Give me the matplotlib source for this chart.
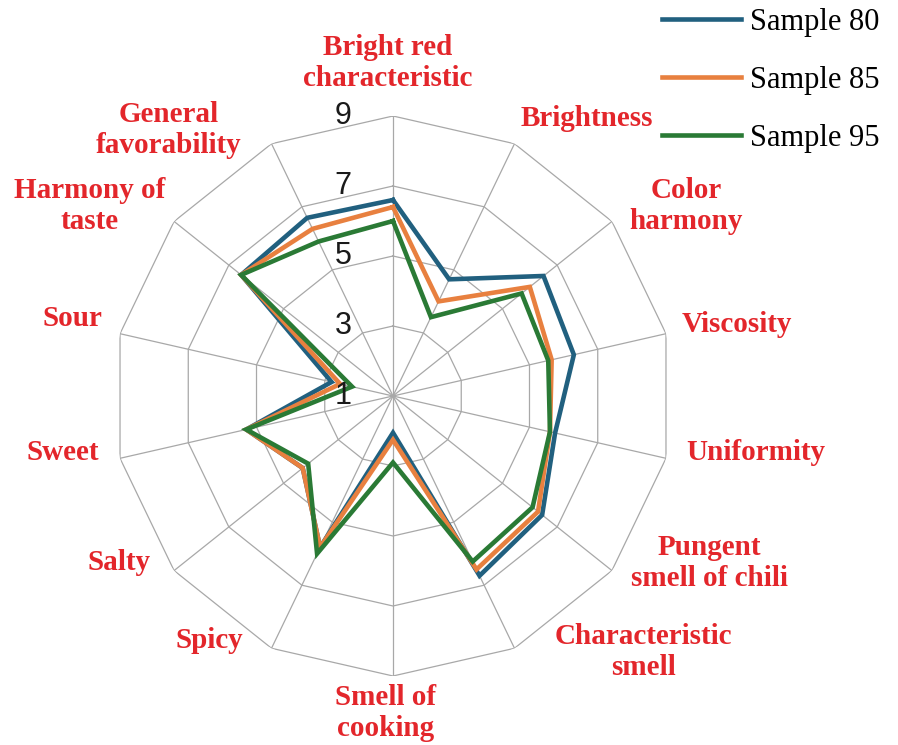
import numpy as np
import matplotlib
matplotlib.use("Agg")
import matplotlib.pyplot as plt

# Categories, clockwise from the top.
categories = [
    "Bright red\ncharacteristic", "Brightness", "Color\nharmony", "Viscosity",
    "Uniformity", "Pungent\nsmell of chili", "Characteristic\nsmell",
    "Smell of\ncooking", "Spicy", "Salty", "Sweet", "Sour",
    "Harmony of\ntaste", "General\nfavorability",
]

sample_80 = [6.6, 4.7, 6.5, 6.3, 5.75, 6.45, 6.7, 2.05, 5.8, 4.3, 5.3, 2.8, 6.55, 6.65]
sample_85 = [6.4, 4.0, 6.0, 5.65, 5.6, 6.3, 6.5, 2.25, 5.8, 4.3, 5.3, 2.55, 6.55, 6.3]
sample_95 = [6.0, 3.5, 5.7, 5.55, 5.6, 6.1, 6.25, 2.9, 6.0, 4.1, 5.3, 2.2, 6.55, 5.9]

series_names = ["Sample 80", "Sample 85", "Sample 95"]
ring_values = [3, 5, 7, 9]
tick_values = [1, 3, 5, 7, 9]

W, H = 898, 745
red = "#e3262b"
colors = ["#21607f", "#e8803f", "#2a7a35"]

fig = plt.figure(figsize=(W / 100, H / 100), dpi=100)

# centre (393, 396) px, outer ring radius 280 px
cx, cy, R = 393, 396, 280
ax = fig.add_axes([(cx - R) / W, (H - cy - R) / H, 2 * R / W, 2 * R / H], polar=True)
ax.set_theta_zero_location("N")
ax.set_theta_direction(-1)
ax.set_ylim(1, 9)
ax.grid(False)
ax.set_xticks([])
ax.set_yticks([])
ax.spines["polar"].set_visible(False)
ax.patch.set_alpha(0)

n = len(categories)
theta = np.arange(n) * 2 * np.pi / n
theta_c = np.append(theta, theta[0])

# polygon grid
for rv in ring_values:
    ax.plot(theta_c, [rv] * (n + 1), color="#a8a8a8", lw=0.9, zorder=1)
for t in theta:
    ax.plot([t, t], [1, 9], color="#a8a8a8", lw=0.9, zorder=1)

# series
for vals, name, c in zip([sample_80, sample_85, sample_95], series_names, colors):
    ax.plot(theta_c, vals + vals[:1], color=c, lw=3.3, label=name, zorder=3,
            solid_joinstyle="miter")

# radial tick labels, left of the vertical axis
for tv in tick_values:
    ax.annotate(str(tv), xy=(0, tv), xytext=(-50, 0), textcoords="offset pixels",
                ha="center", va="center", fontsize=22, family="Liberation Sans",
                color="#1a1a1a", zorder=4)

# category labels (pixel centres)
label_px = [(388, 63), (587, 119), (686, 206), (737, 325), (756, 452),
            (709, 563), (643, 652), (386, 713), (209, 640), (119, 563),
            (63, 452), (72, 318), (90, 206), (169, 130)]
for lab, (px, py) in zip(categories, label_px):
    fig.text(px / W, 1 - py / H, lab, ha="center", va="center",
             multialignment="center", fontsize=21, fontweight="bold",
             family="Liberation Serif", color=red, linespacing=1.2)

fig.legend(loc="upper left", bbox_to_anchor=(662 / W, 1 - 8 / H), frameon=False,
           prop={"family": "Liberation Serif", "size": 22}, handlelength=2.6,
           handletextpad=0.28, labelspacing=0.95, borderpad=0, borderaxespad=0)

fig.savefig("out.png", dpi=100)
